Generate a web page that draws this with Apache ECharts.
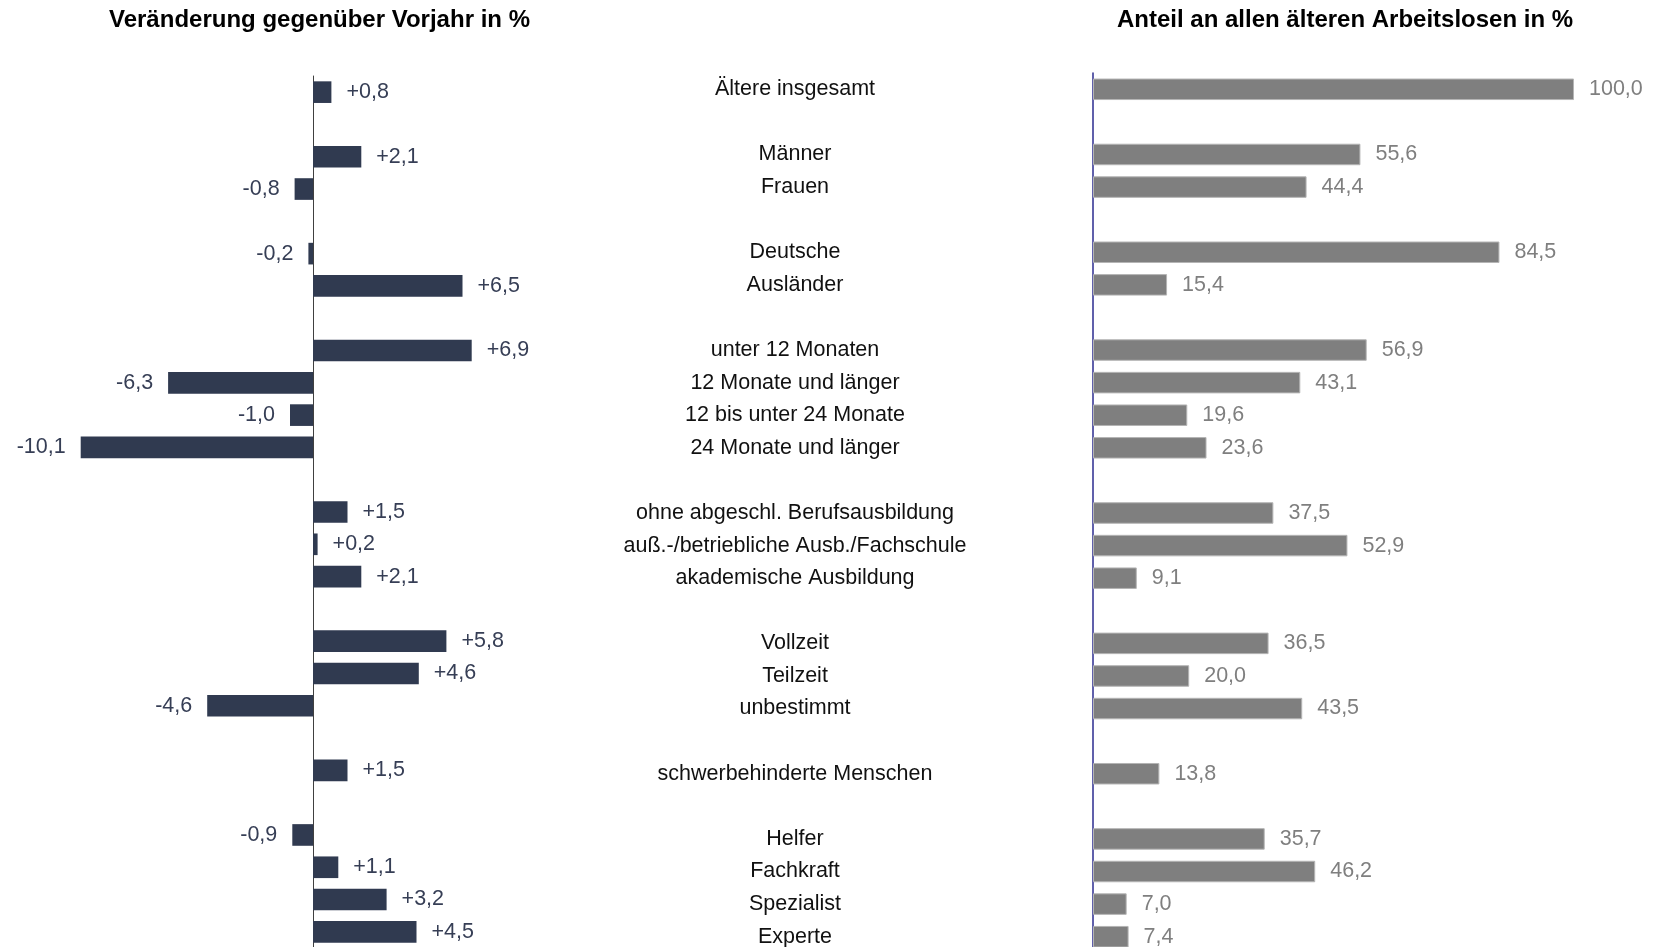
<!DOCTYPE html>
<html>
<head>
<meta charset="utf-8">
<title>Ältere Arbeitslose</title>
<script src="https://cdn.jsdelivr.net/npm/echarts@6/dist/echarts.min.js"></script>
<style>
  html, body { margin: 0; padding: 0; background: #fff; }
  #chart { width: 1659px; height: 947px; }
</style>
</head>
<body>
<div id="chart"></div>
<script>
// Zeilen ('' = Leerzeile zwischen den Gruppen)
const categories = [
  'Ältere insgesamt', '',
  'Männer', 'Frauen', '',
  'Deutsche', 'Ausländer', '',
  'unter 12 Monaten', '12 Monate und länger', '12 bis unter 24 Monate', '24 Monate und länger', '',
  'ohne abgeschl. Berufsausbildung', 'auß.-/betriebliche Ausb./Fachschule', 'akademische Ausbildung', '',
  'Vollzeit', 'Teilzeit', 'unbestimmt', '',
  'schwerbehinderte Menschen', '',
  'Helfer', 'Fachkraft', 'Spezialist', 'Experte'
];

// Veränderung gegenüber Vorjahr in %
const changeValues = [
  0.8, null,
  2.1, -0.8, null,
  -0.2, 6.5, null,
  6.9, -6.3, -1.0, -10.1, null,
  1.5, 0.2, 2.1, null,
  5.8, 4.6, -4.6, null,
  1.5, null,
  -0.9, 1.1, 3.2, 4.5
];

// Anteil an allen älteren Arbeitslosen in %
const shareValues = [
  100.0, null,
  55.6, 44.4, null,
  84.5, 15.4, null,
  56.9, 43.1, 19.6, 23.6, null,
  37.5, 52.9, 9.1, null,
  36.5, 20.0, 43.5, null,
  13.8, null,
  35.7, 46.2, 7.0, 7.4
];

const titles = ['Veränderung gegenüber Vorjahr in %', 'Anteil an allen älteren Arbeitslosen in %'];

const FONT = '"Liberation Sans", Arial, sans-serif';

function fmt(v, sign) {
  let s = v.toFixed(1).replace('.', ',');
  if (sign && v > 0) s = '+' + s;
  return s;
}

let chart = echarts.init(document.getElementById('chart'));

let option = {
  animation: false,
  textStyle: { fontFamily: FONT },
  graphic: [
    {
      type: 'text', left: 109, top: 8,
      style: { text: titles[0], font: 'bold 24px ' + FONT, fill: '#000' }
    },
    {
      type: 'text', left: 1117, top: 8,
      style: { text: titles[1], font: 'bold 24px ' + FONT, fill: '#000' }
    }
  ],
  grid: [
    { left: 37, width: 552, top: 76, height: 872, outerBoundsMode: 'none', containLabel: false },
    { left: 1093, width: 481, top: 73, height: 880, outerBoundsMode: 'none', containLabel: false }
  ],
  xAxis: [
    { gridIndex: 0, type: 'value', min: -12, max: 12, show: false },
    { gridIndex: 1, type: 'value', min: 0, max: 100, show: false }
  ],
  yAxis: [
    {
      gridIndex: 0, type: 'category', data: categories, inverse: true,
      axisLine: { show: true, onZero: true, lineStyle: { color: '#404040', width: 1 } },
      axisTick: { show: false },
      axisLabel: { show: false }
    },
    {
      gridIndex: 1, type: 'category', data: categories, inverse: true,
      axisLine: { show: true, lineStyle: { color: '#2b2b8f', width: 1.5 } },
      axisTick: { show: false },
      axisLabel: {
        show: true, align: 'center', margin: 298,
        color: '#111', fontSize: 21.5, fontFamily: FONT
      }
    }
  ],
  series: [
    {
      type: 'bar', xAxisIndex: 0, yAxisIndex: 0,
      data: changeValues,
      barCategoryGap: '33%',
      itemStyle: { color: '#303a50' },
      label: {
        show: true,
        distance: 15,
        color: '#363e55',
        fontSize: 21.5,
        fontFamily: FONT,
        formatter: p => fmt(p.value, true),
        position: 'right'
      }
    },
    {
      type: 'bar', xAxisIndex: 1, yAxisIndex: 1,
      data: shareValues,
      barCategoryGap: '34%',
      itemStyle: { color: '#7f7f7f', borderColor: '#b5b5b5', borderWidth: 1 },
      label: {
        show: true,
        position: 'right',
        distance: 15,
        color: '#7f7f7f',
        fontSize: 21.5,
        fontFamily: FONT,
        formatter: p => fmt(p.value, false)
      }
    }
  ]
};

// negative Werte: Beschriftung links vom Balken
option.series[0].data = changeValues.map(v =>
  v !== null && v < 0 ? { value: v, label: { position: 'left' } } : v
);

chart.setOption(option);
window.addEventListener('resize', function() {
  chart.resize();
});
</script>
</body>
</html>
